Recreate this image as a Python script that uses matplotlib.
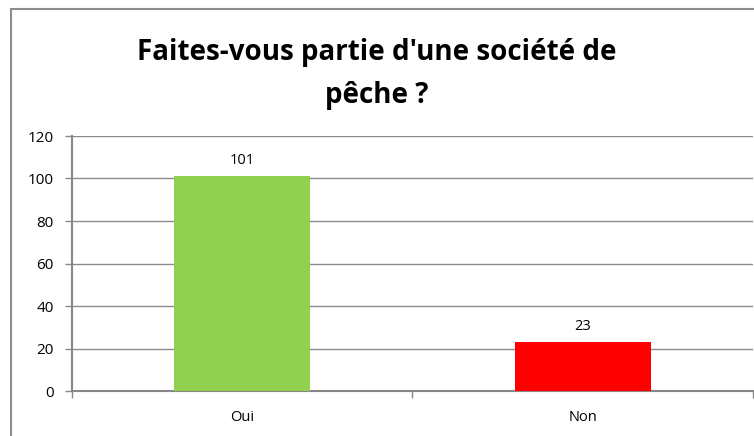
import matplotlib.pyplot as plt
from matplotlib.patches import Rectangle

categories = ['Oui', 'Non']
values = [101, 23]
colors = ['#92D050', '#FF0000']
title = "Faites-vous partie d'une société de\npêche ?"

plt.rcParams['font.family'] = ['Open Sans', 'DejaVu Sans']

fig = plt.figure(figsize=(7.54, 4.36), dpi=100)
W, H = 754, 436

# chart frame (left and top visible)
fig.patches.append(Rectangle((11 / W, -0.1), 1.2, 1 - 9 / H + 0.1, transform=fig.transFigure,
                             fill=False, edgecolor='#8c8c8c', linewidth=1.5))

ax = fig.add_axes([72 / W, 1 - 391 / H, (753 - 72) / W, (391 - 136) / H])
x = range(len(categories))
bars = ax.bar(x, values, width=0.4, color=colors, zorder=3)
for b, v in zip(bars, values):
    ax.text(b.get_x() + b.get_width() / 2, v + 4, str(v), ha='center', va='bottom', fontsize=10.5)

ax.set_xlim(-0.5, 1.5)
ax.set_ylim(0, 120)
ax.set_yticks(range(0, 121, 20))
ax.set_xticks(list(x))
ax.set_xticklabels(categories, fontsize=10.5)
ax.set_xticks([-0.5, 0.5, 1.5], minor=True)
ax.tick_params(axis='x', which='major', length=0, pad=14)
ax.tick_params(axis='x', which='minor', length=5, color='#888888', width=1)
ax.tick_params(axis='y', length=5, color='#888888', width=1, labelsize=11, pad=8)
ax.yaxis.grid(True, color='#8c8c8c', linewidth=1, zorder=0)
for s in ['top', 'right']:
    ax.spines[s].set_visible(False)
for s in ['left', 'bottom']:
    ax.spines[s].set_color('#888888')
    ax.spines[s].set_linewidth(1.5)

fig.text(377 / W, 1 - 74 / H, title, ha='center', va='center', fontsize=20,
         fontweight='bold', linespacing=1.6)

fig.savefig('out.png', dpi=100)
